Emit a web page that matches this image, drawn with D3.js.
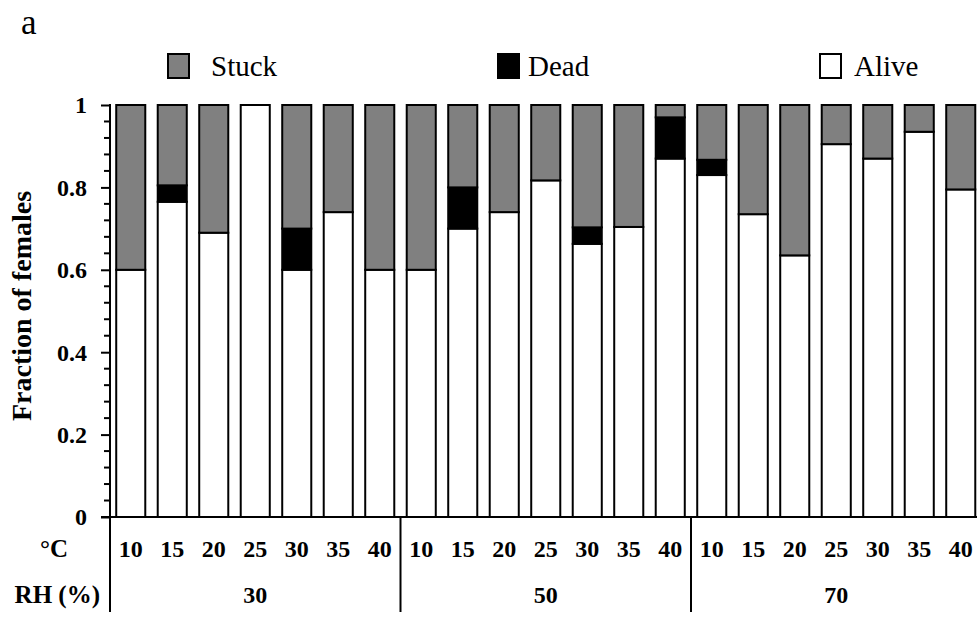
<!DOCTYPE html>
<html>
<head>
<meta charset="utf-8">
<script src="https://cdn.jsdelivr.net/npm/d3@7"></script>
<style>
  body { margin: 0; background: #fff; }
  text { font-family: "Liberation Serif", "Times New Roman", serif; }
</style>
</head>
<body>
<svg></svg>
<script>
var svgWidth = 977;
var svgHeight = 617;

// data
var temps = ['10', '15', '20', '25', '30', '35', '40'];
var rhLevels = ['30', '50', '70'];
var alive = [0.60, 0.765, 0.69, 1.00, 0.60, 0.74, 0.60,
             0.60, 0.70, 0.74, 0.817, 0.663, 0.704, 0.87,
             0.83, 0.735, 0.635, 0.905, 0.87, 0.935, 0.795];
var dead  = [0, 0.04, 0, 0, 0.10, 0, 0,
             0, 0.10, 0, 0, 0.04, 0, 0.10,
             0.037, 0, 0, 0, 0, 0, 0];
var stuck = [0.40, 0.195, 0.31, 0, 0.30, 0.26, 0.40,
             0.40, 0.20, 0.26, 0.183, 0.297, 0.296, 0.03,
             0.133, 0.265, 0.365, 0.095, 0.13, 0.065, 0.205];
var yTicks = [0, 0.2, 0.4, 0.6, 0.8, 1];

var colors = { alive: '#ffffff', dead: '#000000', stuck: '#808080' };

var margin = { left: 110, right: -4.5, top: 105, bottom: 100 };
var plotBottom = 517;

var svg = d3.select('svg')
    .attr('width', svgWidth)
    .attr('height', svgHeight);

/* build rows: one per bar */
var rows = [];
rhLevels.forEach((rh, g) => {
    temps.forEach((t, i) => {
        var k = g * temps.length + i;
        rows.push({ key: rh + '-' + t, rh: rh, temp: t, alive: alive[k], dead: dead[k], stuck: stuck[k] });
    });
});

var x = d3.scaleBand()
    .domain(rows.map(d => d.key))
    .range([margin.left, svgWidth - margin.right])
    .paddingInner(0.3)
    .paddingOuter(0.15);

var y = d3.scaleLinear()
    .domain([0, 1])
    .range([plotBottom, margin.top]);

var stack = d3.stack().keys(['alive', 'dead', 'stuck']);
var series = stack(rows);

/* bars */
svg.append('g').selectAll('g')
    .data(series)
    .enter().append('g')
    .style('fill', d => colors[d.key])
    .selectAll('rect')
    .data(d => d.filter(s => s[1] - s[0] > 0))
    .enter().append('rect')
    .attr('x', d => x(d.data.key))
    .attr('y', d => y(d[1]))
    .attr('width', x.bandwidth())
    .attr('height', d => y(d[0]) - y(d[1]))
    .attr('stroke', '#000')
    .attr('stroke-width', 2);

/* y axis with minor ticks */
var yAxis = d3.axisLeft(y).tickValues(yTicks).tickSize(9).tickFormat(d => d === 0 || d === 1 ? d3.format('d')(d) : d3.format('.1f')(d)).tickPadding(0);
var gy = svg.append('g').attr('transform', `translate(${margin.left},0)`).call(yAxis);
gy.select('.domain').remove();
gy.selectAll('.tick line').attr('stroke', '#000').attr('stroke-width', 2);
gy.selectAll('.tick text')
    .attr('x', -23)
    .attr('dy', '0.33em')
    .style('font-size', '24px')
    .style('font-weight', 'bold')
    .attr('fill', '#000');

var minor = d3.range(0, 26).map(i => i * 0.04).filter(v => Math.abs(v * 5 - Math.round(v * 5)) > 1e-6);
svg.append('g').selectAll('line')
    .data(minor)
    .enter().append('line')
    .attr('x1', margin.left - 6).attr('x2', margin.left)
    .attr('y1', d => y(d)).attr('y2', d => y(d))
    .attr('stroke', '#000').attr('stroke-width', 2);

svg.append('line')
    .attr('x1', margin.left).attr('x2', margin.left)
    .attr('y1', y(1) - 1).attr('y2', plotBottom)
    .attr('stroke', '#000').attr('stroke-width', 2);

/* x axis base line */
svg.append('line')
    .attr('x1', 101).attr('x2', svgWidth)
    .attr('y1', plotBottom).attr('y2', plotBottom)
    .attr('stroke', '#000').attr('stroke-width', 2);

/* temperature labels */
svg.append('g').selectAll('text')
    .data(rows)
    .enter().append('text')
    .text(d => d.temp)
    .attr('x', d => x(d.key) + x.bandwidth() / 2)
    .attr('y', 557)
    .attr('text-anchor', 'middle')
    .style('font-size', '24px')
    .style('font-weight', 'bold');

/* group separators and RH labels */
var step = x.step();
var groupEdges = d3.range(0, rhLevels.length + 1).map(g => margin.left + g * temps.length * step);
svg.append('g').selectAll('line')
    .data(groupEdges)
    .enter().append('line')
    .attr('x1', d => d).attr('x2', d => d)
    .attr('y1', plotBottom).attr('y2', 612)
    .attr('stroke', '#000').attr('stroke-width', 2);

svg.append('g').selectAll('text')
    .data(rhLevels)
    .enter().append('text')
    .text(d => d)
    .attr('x', (d, i) => (groupEdges[i] + groupEdges[i + 1]) / 2)
    .attr('y', 603)
    .attr('text-anchor', 'middle')
    .style('font-size', '24px')
    .style('font-weight', 'bold');

svg.append('text').text('°C')
    .attr('x', 68).attr('y', 557).attr('text-anchor', 'end')
    .style('font-size', '25px').style('font-weight', 'bold');
svg.append('text').text('RH (%)')
    .attr('x', 100).attr('y', 603).attr('text-anchor', 'end')
    .style('font-size', '25px').style('font-weight', 'bold');

/* y title */
svg.append('text').text('Fraction of females')
    .attr('transform', 'translate(31,306) rotate(-90)')
    .attr('text-anchor', 'middle')
    .style('font-size', '28px').style('font-weight', 'bold');

/* panel letter */
svg.append('text').text('a')
    .attr('x', 21).attr('y', 34)
    .style('font-size', '35px');

/* legend */
var legend = [
    { name: 'Stuck', key: 'stuck', x: 168, tx: 211 },
    { name: 'Dead', key: 'dead', x: 498, tx: 528 },
    { name: 'Alive', key: 'alive', x: 820, tx: 854 }
];
var lg = svg.append('g').selectAll('g').data(legend).enter().append('g');
lg.append('rect')
    .attr('x', d => d.x).attr('y', 54)
    .attr('width', 21).attr('height', 24)
    .style('fill', d => colors[d.key])
    .attr('stroke', '#000').attr('stroke-width', 2);
lg.append('text')
    .text(d => d.name)
    .attr('x', d => d.tx).attr('y', 76)
    .style('font-size', '29px');
</script>
</body>
</html>
